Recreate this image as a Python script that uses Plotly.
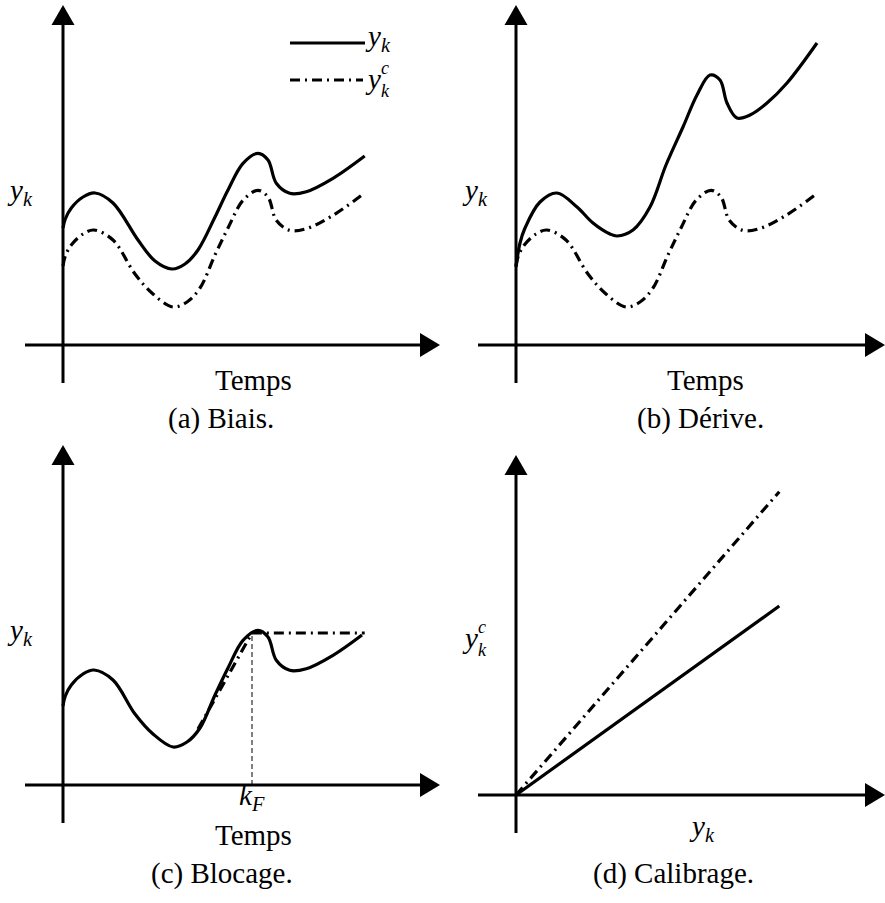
"""Four sketches of sensor faults: bias, drift, freeze and calibration"""
import plotly.graph_objects as go

W, H = 885, 903

# Time samples and values (axis units = pixels from the axis crossing)
t_bias = [0, 2.3, 8.3, 20, 32, 50, 75, 92, 109, 122, 135, 152, 165, 180, 195, 205,
          213.3, 226.7, 243.3, 270, 301.7]
y_bias = [117, 126, 137, 148, 152, 142, 105, 84, 76, 81, 95, 128, 155, 181.7,
          191.7, 185, 161.7, 151.7, 153.3, 166.7, 189]

t_ref = [0, 2.3, 8.3, 20, 31, 50, 72, 90, 110, 124, 137, 152, 165, 180, 195, 205,
         213.3, 226.7, 243.3, 270, 299]
y_ref = [79, 89, 100, 111, 115, 105, 71, 51, 38, 43, 57, 90, 117, 144.7,
         154.7, 148, 124.7, 114.7, 116.3, 129.7, 150]

t_drift = [0, 4, 9, 24, 41, 61, 77, 94, 101, 117, 134, 150, 167, 181, 194, 204,
           211, 221, 234, 251, 271, 301]
y_drift = [78, 102, 117, 143, 152, 138, 122, 111, 109, 115, 138, 180, 218, 250,
           270, 265, 242, 227, 230, 242, 262, 302]

t_frozen = [135, 189, 301.7]
y_frozen = [56, 152, 152]
k_fault = 189

x_calib = [0, 263.3]
y_calib_true = [0, 189]
y_calib_meas = [0, 303.3]

SERIF = "Liberation Serif"
DASHDOT = "10px,5px,2px,5px"
LW = 3.2

# panel: (x domain px, y domain px, origin px)
panels = {
    "a": ((0, 440), (0, 440), (63, 345)),
    "b": ((440, 885), (0, 440), (516, 345)),
    "c": ((0, 440), (440, 903), (63, 785)),
    "d": ((440, 885), (440, 903), (516, 795)),
}

fig = go.Figure()
layout = {}
shapes = []
annotations = []
refs = {}
for i, (name, (xd, yd, (ox, oy))) in enumerate(panels.items()):
    suffix = "" if i == 0 else str(i + 1)
    xa, ya = "x" + suffix, "y" + suffix
    refs[name] = (xa, ya)
    layout["xaxis" + suffix] = dict(
        domain=[xd[0] / W, xd[1] / W], range=[xd[0] - ox, xd[1] - ox],
        anchor=ya, visible=False, fixedrange=True,
    )
    layout["yaxis" + suffix] = dict(
        domain=[1 - yd[1] / H, 1 - yd[0] / H], range=[oy - yd[1], oy - yd[0]],
        anchor=xa, visible=False, fixedrange=True,
    )
    x_end = xd[1] - ox - 20
    # axis lines with arrowheads
    shapes.append(dict(type="line", xref=xa, yref=ya, x0=0, x1=0, y0=-38, y1=322,
                       line=dict(color="black", width=3)))
    shapes.append(dict(type="line", xref=xa, yref=ya, x0=-38, x1=x_end + 2, y0=0, y1=0,
                       line=dict(color="black", width=3)))
    shapes.append(dict(type="path", xref=xa, yref=ya,
                       path="M -11.5 320 L 11.5 320 L 0 340 Z",
                       fillcolor="black", line=dict(width=0)))
    shapes.append(dict(type="path", xref=xa, yref=ya,
                       path=f"M {x_end} -12 L {x_end} 12 L {x_end + 20} 0 Z",
                       fillcolor="black", line=dict(width=0)))


def line(name, x, y, dash="solid", shape="spline"):
    xa, ya = refs[name]
    fig.add_trace(go.Scatter(
        x=x, y=y, xaxis=xa, yaxis=ya, mode="lines",
        line=dict(color="black", width=LW, dash=dash, shape=shape, smoothing=1.0),
        showlegend=False, hoverinfo="skip",
    ))


def text(name, x, y, s, size=29, xanchor="center", align="center"):
    xa, ya = refs[name]
    annotations.append(dict(x=x, y=y, xref=xa, yref=ya, text=s, showarrow=False,
                            xanchor=xanchor, yanchor="middle", borderpad=0,
                            align=align,
                            font=dict(family=SERIF, size=size, color="black")))


def yk(name, x, y):
    # x is the left edge of the label
    text(name, x, y, "<i>y</i><sub><i>k</i></sub>", xanchor="left")


def ykc(name, x, y):
    # y with stacked superscript c and subscript k
    text(name, x, y, "<i>y</i>", xanchor="left")
    text(name, x + 16, y, "<i>c</i><br><i>k</i>", size=18, xanchor="left",
         align="left")


# (a) Biais
line("a", t_ref, y_ref, dash=DASHDOT)
line("a", t_bias, y_bias)
yk("a", -57, 153)
text("a", 190, -35, "Temps")
text("a", 158, -73, "(a) Biais.")
xa, ya = refs["a"]
shapes.append(dict(type="line", xref=xa, yref=ya, x0=227, x1=302, y0=302, y1=302,
                   line=dict(color="black", width=LW)))
shapes.append(dict(type="line", xref=xa, yref=ya, x0=227, x1=300, y0=265, y1=265,
                   line=dict(color="black", width=LW, dash=DASHDOT)))
yk("a", 301, 307)
ykc("a", 301, 266)

# (b) Dérive
line("b", t_ref, y_ref, dash=DASHDOT)
line("b", t_drift, y_drift)
yk("b", -55, 153)
text("b", 189, -35, "Temps")
text("b", 184, -73, "(b) Dérive.")

# (c) Blocage
line("c", t_frozen, y_frozen, dash=DASHDOT, shape="linear")
line("c", t_ref, y_ref)
xa, ya = refs["c"]
shapes.append(dict(type="line", xref=xa, yref=ya, x0=k_fault, x1=k_fault, y0=0,
                   y1=y_frozen[1], line=dict(color="black", width=1, dash="5px,3px")))
yk("c", -57, 153)
text("c", k_fault, -12, "<i>k</i><sub><i>F</i></sub>")
text("c", 190, -50, "Temps")
text("c", 159, -88, "(c) Blocage.")

# (d) Calibrage
line("d", x_calib, y_calib_meas, dash=DASHDOT, shape="linear")
line("d", x_calib, y_calib_true, shape="linear")
ykc("d", -55, 157)
yk("d", 172, -33)
text("d", 157, -78, "(d) Calibrage.")

fig.update_layout(
    **layout,
    shapes=shapes,
    annotations=annotations,
    width=W, height=H,
    margin=dict(l=0, r=0, t=0, b=0),
    paper_bgcolor="white",
    plot_bgcolor="rgba(0,0,0,0)",
    showlegend=False,
)
fig.write_html("out.html", config={"displayModeBar": False},
               post_script="document.body.style.margin='0';")
